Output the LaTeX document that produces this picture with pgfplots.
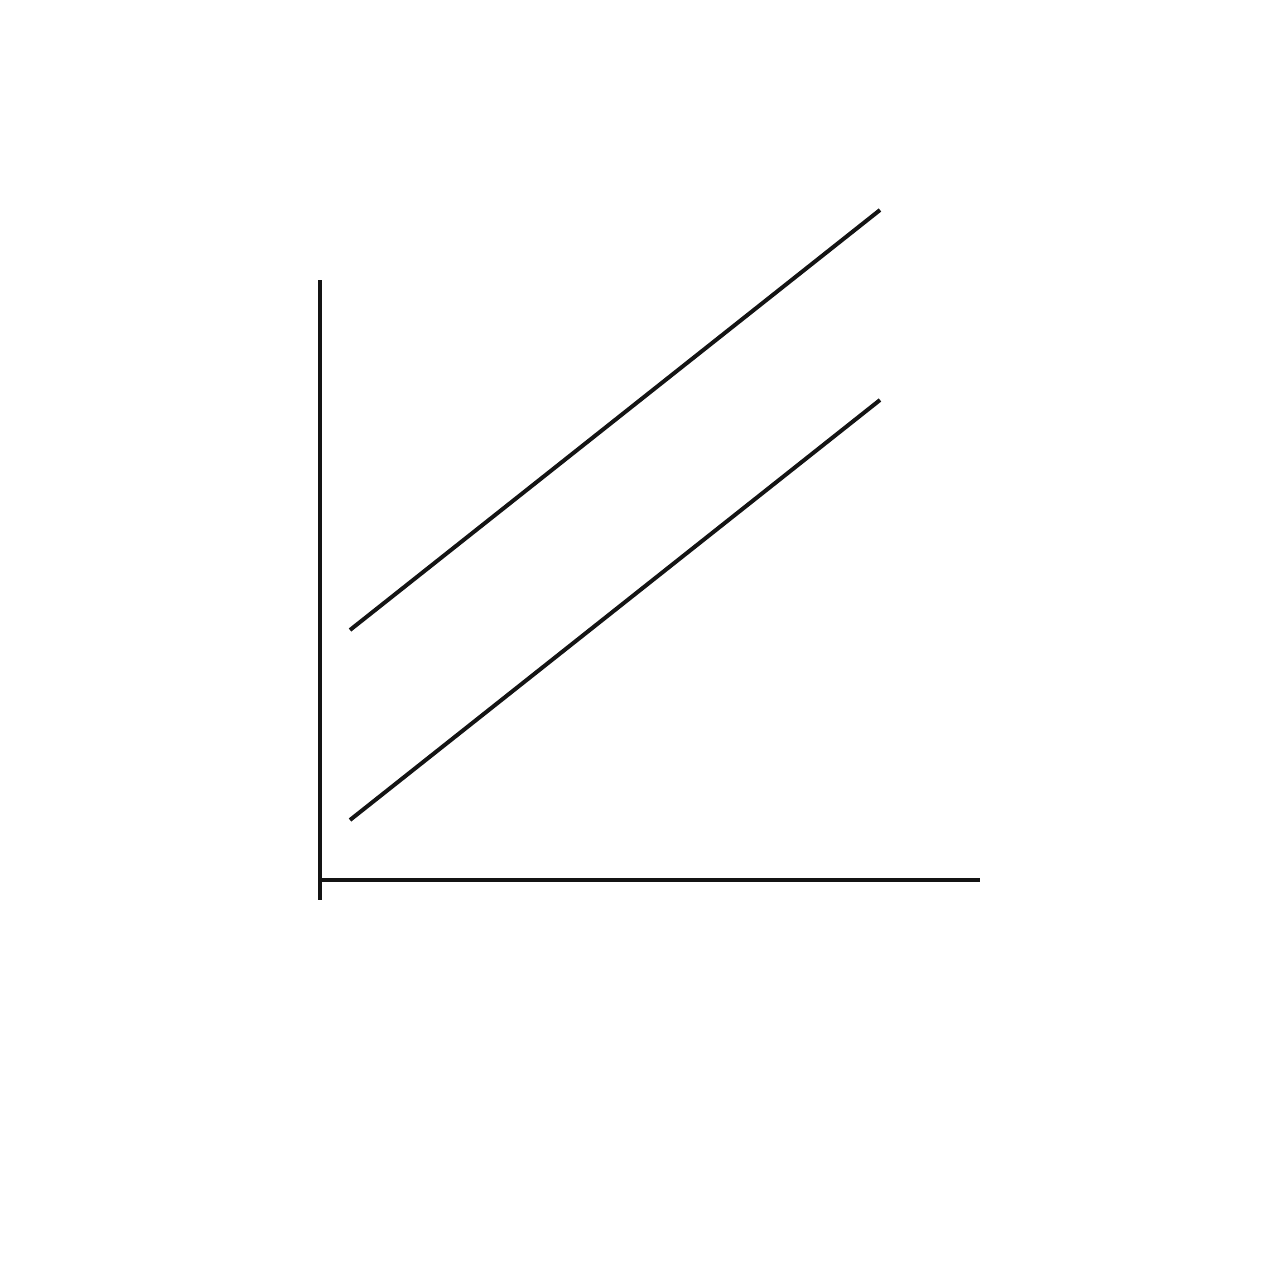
\documentclass[border=0pt]{standalone}
\usepackage{pgfplots}
\pgfplotsset{compat=1.18}
\definecolor{ink}{HTML}{141414}
\begin{document}
\begin{tikzpicture}
\useasboundingbox (0,0) rectangle (12.8cm,12.8cm);
\begin{axis}[
    at={(3.2cm,3.8cm)}, anchor=south west,
    scale only axis,
    width=6.6cm, height=6.2cm,
    xmin=0, xmax=660,
    ymin=-20, ymax=600,
    axis lines=middle,
    axis line style={-, ink, line width=0.04cm},
    ticks=none,
    clip=false,
]
    \addplot[ink, line width=0.04cm] coordinates {(30,250) (560,670)};
    \addplot[ink, line width=0.04cm] coordinates {(30,60) (560,480)};
\end{axis}
\end{tikzpicture}
\end{document}
